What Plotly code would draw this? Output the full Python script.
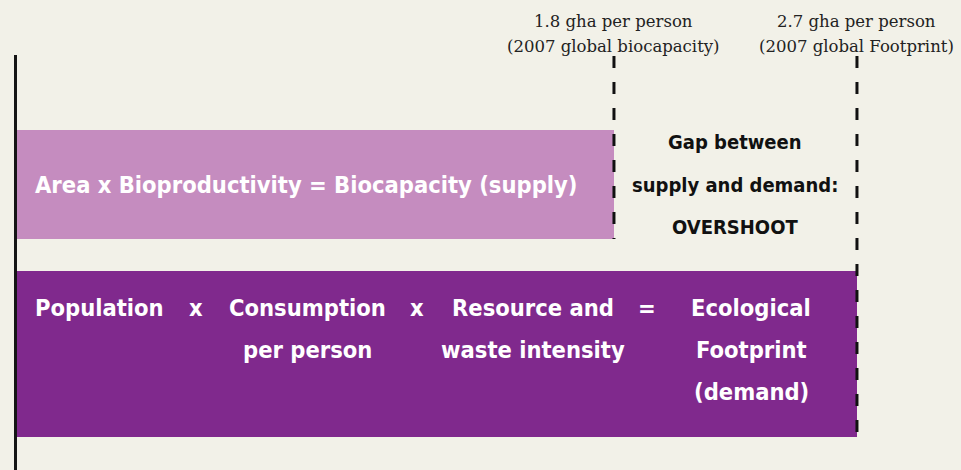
import plotly.graph_objects as go

# ---- data ----
categories = ["Biocapacity (supply)", "Ecological Footprint (demand)"]
values_gha = [1.8, 2.7]
bar_rows = [1, 0]
top_line1 = ["1.8 gha per person", "2.7 gha per person"]
top_line2 = ["(2007 global biocapacity)", "(2007 global Footprint)"]
supply_label = "Area x Bioproductivity = Biocapacity (supply)"
demand_terms = [["Population"], ["x"], ["Consumption", "per person"], ["x"],
                ["Resource and", "waste intensity"], ["="], ["Ecological", "Footprint", "(demand)"]]
gap_lines = ["Gap between", "supply and demand:", "OVERSHOOT"]

# ---- style / layout ----
W, H = 961, 470
ML, MT = 17, 55
BAR_BASE = -0.411
X_RANGE = [BAR_BASE, BAR_BASE + (W - ML) / 270.0]
Y_RANGE = [-0.684, 1.764]
bar_widths = [0.643, 0.979]
bar_colors = ["#c58cbf", "#80298d"]
BG = "#f2f1e8"
COND = "Noto Sans ExtraCondensed, Liberation Sans Narrow, DejaVu Sans Condensed, sans-serif"
SERIF = "DejaVu Serif, Georgia, serif"
FS_WHITE = 23.5
FS_GAP = 20
FS_TOP = 16.5

def px2x(p):  # pixel -> paper x
    return (p - ML) / (W - ML)

def py2y(p):  # pixel -> paper y
    return (H - p) / (H - MT)

fig = go.Figure()
fig.add_trace(go.Bar(
    y=bar_rows,
    x=[v - BAR_BASE for v in values_gha],
    base=BAR_BASE,
    orientation="h",
    width=bar_widths,
    marker=dict(color=bar_colors, line=dict(width=0)),
    name="",
    hoverinfo="skip",
    showlegend=False,
))

# dashed reference lines
for v, row, w in zip(values_gha, bar_rows, bar_widths):
    fig.add_shape(type="line", xref="x", yref="y",
                  x0=v, x1=v, y0=Y_RANGE[1] - 0.006, y1=row - w / 2,
                  line=dict(color="#111111", width=3, dash="12px,14px"))

annotations = []
# top serif labels
for v, l1, l2 in zip(values_gha, top_line1, top_line2):
    for txt, yp in ((l1, 22), (l2, 46)):
        annotations.append(dict(x=v, xref="x", y=py2y(yp), yref="paper", text=txt,
                                showarrow=False, xanchor="center", yanchor="middle",
                                font=dict(family=SERIF, size=FS_TOP, color="#222222")))

# supply label
annotations.append(dict(x=px2x(33), xref="paper", y=py2y(185), yref="paper",
                        text="<b>" + supply_label + "</b>", showarrow=False,
                        xanchor="left", yanchor="middle",
                        font=dict(family=COND, size=FS_WHITE, color="white")))

# gap label
gap_y = [142, 185, 227]
for txt, yp in zip(gap_lines, gap_y):
    annotations.append(dict(x=px2x(735), xref="paper", y=py2y(yp), yref="paper",
                            text="<b>" + txt + "</b>", showarrow=False,
                            xanchor="center", yanchor="middle",
                            font=dict(family=COND, size=FS_GAP, color="#111111")))

# demand terms
term_x = [33, 196, 307, 417, 533, 647, 751]
line_y = [308, 350, 392]
for i, (lines, xp) in enumerate(zip(demand_terms, term_x)):
    for txt, yp in zip(lines, line_y):
        annotations.append(dict(x=px2x(xp), xref="paper", y=py2y(yp), yref="paper",
                                text="<b>" + txt + "</b>", showarrow=False,
                                xanchor="left" if i == 0 else "center", yanchor="middle",
                                font=dict(family=COND, size=FS_WHITE, color="white")))

fig.update_layout(
    width=W, height=H,
    margin=dict(l=ML, r=0, t=MT, b=0),
    paper_bgcolor=BG, plot_bgcolor=BG,
    xaxis=dict(range=X_RANGE, visible=False, fixedrange=True),
    yaxis=dict(range=Y_RANGE, showline=True, linecolor="#151515", linewidth=3,
               showticklabels=False, showgrid=False, zeroline=False, ticks="",
               fixedrange=True),
    annotations=annotations,
    bargap=0,
)

fig.write_html("out.html", config={"displayModeBar": False},
               post_script="document.body.style.margin='0px';document.body.style.padding='0px';document.body.style.overflow='hidden';")
